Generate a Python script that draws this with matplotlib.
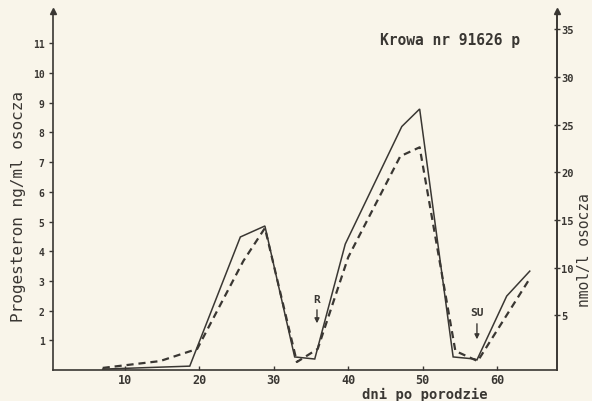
import matplotlib
matplotlib.use("Agg")
import matplotlib.pyplot as plt

# ---- data ----
days_solid = [7.0, 18.7, 25.5, 28.8, 32.8, 35.5, 39.6, 47.2, 49.6, 54.1, 57.0, 57.3, 61.3, 64.4]
prog_solid = [0.03, 0.13, 4.48, 4.85, 0.44, 0.37, 4.24, 8.2, 8.79, 0.44, 0.37, 0.34, 2.49, 3.33]

days_dashed = [7.0, 14.7, 19.7, 25.9, 28.8, 33.1, 35.9, 40.0, 47.0, 49.6, 54.4, 57.4, 64.2]
prog_dashed = [0.07, 0.30, 0.71, 3.67, 4.78, 0.27, 0.71, 3.80, 7.2, 7.5, 0.64, 0.30, 3.0]

x_ticks = [10, 20, 30, 40, 50, 60]
left_ticks = [1, 2, 3, 4, 5, 6, 7, 8, 9, 10, 11]
right_ticks = [5, 10, 15, 20, 25, 30, 35]

annot_labels = ["R", "SU"]
annot_days = [35.8, 57.3]

title_text = "Krowa nr 91626 p"
xlabel_text = "dni po porodzie"
ylabel_left = "Progesteron ng/ml osocza"
ylabel_right = "nmol/l osocza"

# ---- style ----
paper = "#f9f5ea"
ink = "#3a3733"
FONT = ["DejaVu Sans Mono", "DejaVu Sans"]
plt.rcParams["font.family"] = FONT

W, H = 592, 402
fig = plt.figure(figsize=(W / 100, H / 100), dpi=100, facecolor=paper)

def px(x0, y0, x1, y1):
    return [x0 / W, 1 - y1 / H, (x1 - x0) / W, (y1 - y0) / H]

ax = fig.add_axes(px(53, 12, 557, 371))
ax.set_facecolor(paper)

ax.plot(days_solid, prog_solid, color=ink, lw=1.1, solid_joinstyle="miter")
ax.plot(days_dashed, prog_dashed, color=ink, lw=1.6, linestyle=(0, (3.2, 2.2)))

ax.set_xlim(0.32, 68.06)
ax.set_ylim(0, 12.09)

ax.set_xticks(x_ticks)
ax.set_xticklabels([str(t) for t in x_ticks], fontsize=8.5, color=ink, fontweight="bold")
ax.set_yticks(left_ticks)
ax.set_yticklabels([str(t) for t in left_ticks], fontsize=7, color=ink, fontweight="bold")
ax.tick_params(axis="x", direction="in", length=3, width=1, color=ink, pad=2)
ax.tick_params(axis="y", direction="out", length=3, width=1, color=ink, pad=3)

ax.spines["top"].set_visible(False)
for s in ["left", "bottom", "right"]:
    ax.spines[s].set_color(ink)
    ax.spines[s].set_linewidth(1.2)

ax2 = ax.twinx()
ax2.set_ylim(-0.73, 36.94)
ax2.set_yticks(right_ticks)
ax2.set_yticklabels([str(t) for t in right_ticks], fontsize=7.5, color=ink, fontweight="bold")
ax2.tick_params(axis="y", direction="inout", length=4, width=1, color=ink, pad=1)
for s in ["top", "left", "bottom"]:
    ax2.spines[s].set_visible(False)
ax2.spines["right"].set_color(ink)
ax2.spines["right"].set_linewidth(1.2)

# arrowheads at top of the vertical axes
for xa in (0, 1):
    ax.plot([xa], [1.0], marker="^", markersize=5, color=ink, transform=ax.transAxes, clip_on=False)

# annotations R and SU
ann_text_y = [2.39, 1.95]
ann_tail_y = [2.12, 1.65]
ann_tip_y = [1.48, 0.94]
for lab, d, ty, t0, t1 in zip(annot_labels, annot_days, ann_text_y, ann_tail_y, ann_tip_y):
    ax.text(d, ty, lab, ha="center", va="center", fontsize=8, color=ink, fontweight="bold")
    ax.annotate("", xy=(d, t1), xytext=(d, t0),
                arrowprops=dict(arrowstyle="-|>", color=ink, lw=1.0, mutation_scale=7))

# texts
fig.text(450 / W, 1 - 40 / H, title_text, ha="center", va="center", fontsize=10.5, color=ink, fontweight="bold")
fig.text(425 / W, 1 - 395 / H, xlabel_text, ha="center", va="center", fontsize=10, color=ink, fontweight="bold")
fig.text(19 / W, 1 - 207 / H, ylabel_left, ha="center", va="center", rotation=90, fontsize=11.5, color=ink)
fig.text(584 / W, 1 - 250 / H, ylabel_right, ha="center", va="center", rotation=90, fontsize=10.5, color=ink)

fig.savefig("out.png", dpi=100, facecolor=paper)
